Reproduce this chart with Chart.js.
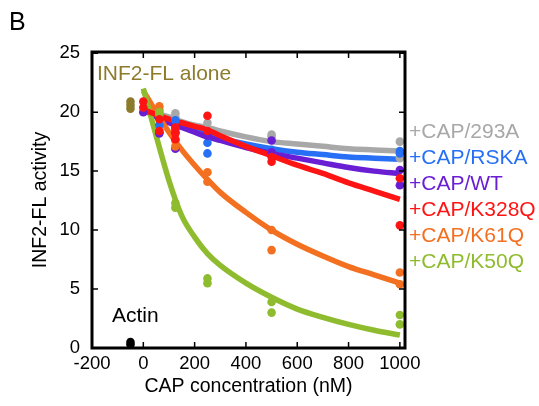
<!DOCTYPE html>
<html>
<head>
<meta charset="utf-8">
<script src="https://cdn.jsdelivr.net/npm/chart.js@4.4.1/dist/chart.umd.min.js"></script>
<style>
  html, body { margin: 0; padding: 0; background: #fff; }
</style>
</head>
<body>
<canvas id="capChart" width="539" height="406"></canvas>
<script>
// fitted curves
const fitX = [0, 50, 100, 150, 200, 250, 300, 400, 500, 600, 700, 800, 900, 1000];
const fit293A = [20.3, 19.9, 19.6, 19.2, 18.9, 18.7, 18.4, 17.9, 17.5, 17.3, 17.1, 16.9, 16.8, 16.7];
const fitRSKA = [20.2, 19.7, 19.2, 18.8, 18.4, 18.1, 17.8, 17.3, 16.9, 16.6, 16.4, 16.2, 16.1, 16.0];
const fitWT = [20.2, 19.6, 19.1, 18.7, 18.3, 17.9, 17.6, 17.0, 16.5, 16.1, 15.7, 15.3, 15.0, 14.8];
const fitK328Q = [20.2, 19.8, 19.4, 19.1, 18.8, 18.5, 18.0, 17.1, 16.3, 15.5, 14.8, 14.0, 13.3, 12.6];
const fitK61Q = [21.8, 20.0, 18.3, 16.8, 15.5, 14.3, 13.2, 11.5, 10.0, 8.8, 7.8, 6.9, 6.2, 5.5];
const fitK50Q = [22.0, 18.0, 14.2, 11.2, 9.4, 8.0, 7.0, 5.5, 4.3, 3.3, 2.6, 2.0, 1.5, 1.1];

// measured points
const ptX293A = [125, 125, 250, 500, 500, 1000, 1000];
const ptY293A = [19.9, 19.6, 19.1, 18.1, 17.9, 17.5, 16.1];
const ptXRSKA = [62.5, 62.5, 125, 125, 250, 250, 500, 500, 1000, 1000];
const ptYRSKA = [18.9, 18.3, 19.3, 18.6, 17.4, 16.5, 16.8, 16.5, 16.7, 16.5];
const ptXWT = [0, 62.5, 125, 125, 250, 500, 500, 1000, 1000];
const ptYWT = [20.0, 18.2, 18.3, 16.9, 18.0, 17.6, 16.6, 15.1, 13.8];
const ptXK328Q = [0, 0, 62.5, 62.5, 125, 125, 125, 250, 250, 500, 500, 1000, 1000];
const ptYK328Q = [20.9, 20.4, 19.4, 18.4, 18.7, 18.2, 17.7, 19.7, 18.4, 16.2, 15.8, 14.4, 10.4];
const ptXK61Q = [62.5, 62.5, 125, 125, 250, 250, 500, 500, 1000, 1000];
const ptYK61Q = [20.5, 20.2, 17.6, 17.1, 14.9, 14.1, 10.0, 8.3, 6.4, 5.4];
const ptXK50Q = [62.5, 62.5, 125, 125, 250, 250, 500, 500, 1000, 1000];
const ptYK50Q = [20.0, 19.8, 12.3, 11.9, 5.9, 5.5, 3.9, 3.0, 2.8, 2.0];
const ptXAlone = [-50, -50, -50];
const ptYAlone = [20.9, 20.6, 20.3];
const ptXActin = [-50, -50];
const ptYActin = [0.5, 0.3];

const seriesNames = ['+CAP/293A', '+CAP/RSKA', '+CAP/WT', '+CAP/K328Q', '+CAP/K61Q', '+CAP/K50Q'];
const seriesColors = ['#a8a8a8', '#2770f5', '#6a1ed4', '#ff1414', '#f37021', '#8fbc2e'];
const aloneColor = '#8c7b2b';
const xTicks = [-200, 0, 200, 400, 600, 800, 1000];
const yTicks = [0, 5, 10, 15, 20, 25];

const FONT = '"Liberation Sans", Arial, sans-serif';

let pairs = (xs, ys) => xs.map((v, i) => ({x: v, y: ys[i]}));

let fits = [fit293A, fitRSKA, fitWT, fitK328Q, fitK61Q, fitK50Q];
let ptsX = [ptX293A, ptXRSKA, ptXWT, ptXK328Q, ptXK61Q, ptXK50Q];
let ptsY = [ptY293A, ptYRSKA, ptYWT, ptYK328Q, ptYK61Q, ptYK50Q];
let lineOrder = [26, 25, 24, 21, 23, 22];
let ptOrder = [16, 15, 14, 11, 13, 12];

let datasets = [];
fits.forEach((f, i) => {
  datasets.push({
    label: seriesNames[i] + ' fit',
    data: pairs(fitX, f),
    showLine: true,
    borderColor: seriesColors[i],
    borderWidth: 5.5,
    pointRadius: 0,
    cubicInterpolationMode: 'monotone',
    order: lineOrder[i]
  });
  datasets.push({
    label: seriesNames[i],
    data: pairs(ptsX[i], ptsY[i]),
    backgroundColor: seriesColors[i],
    borderWidth: 0,
    pointRadius: 4.3,
    order: ptOrder[i]
  });
});
datasets.push({label: 'INF2-FL alone', data: pairs(ptXAlone, ptYAlone), backgroundColor: aloneColor, borderWidth: 0, pointRadius: 4.3, order: 5});
datasets.push({label: 'Actin', data: pairs(ptXActin, ptYActin), backgroundColor: '#000', borderWidth: 0, pointRadius: 4.3, order: 4});

//Box, inward ticks and the text labels
const overlay = {
  id: 'overlay',
  afterDraw(chart) {
    const {ctx, chartArea: a, scales: {x, y}} = chart;
    ctx.save();
    ctx.strokeStyle = '#000';
    ctx.lineWidth = 1.5;
    ctx.beginPath();
    xTicks.forEach(v => {
      let px = x.getPixelForValue(v);
      ctx.moveTo(px, a.bottom); ctx.lineTo(px, a.bottom - 6);
      ctx.moveTo(px, a.top); ctx.lineTo(px, a.top + 6);
    });
    yTicks.forEach(v => {
      let py = y.getPixelForValue(v);
      ctx.moveTo(a.left, py); ctx.lineTo(a.left + 6, py);
      ctx.moveTo(a.right, py); ctx.lineTo(a.right - 6, py);
    });
    ctx.stroke();
    ctx.lineWidth = 3;
    ctx.strokeRect(a.left, a.top, a.right - a.left, a.bottom - a.top);

    ctx.font = '21px ' + FONT;
    ctx.textBaseline = 'middle';
    ctx.textAlign = 'left';
    seriesNames.forEach((n, i) => {
      ctx.fillStyle = seriesColors[i];
      ctx.fillText(n, a.right + 4, a.top + 80 + i * 26);
    });
    ctx.fillStyle = aloneColor;
    ctx.fillText('INF2-FL alone', a.left + 5, a.top + 22);
    ctx.fillStyle = '#000';
    ctx.fillText('Actin', a.left + 20, a.bottom - 32);
    ctx.font = '25px ' + FONT;
    ctx.fillText('B', 9, 23);
    ctx.restore();
  }
};

new Chart(document.getElementById('capChart'), {
  type: 'scatter',
  data: {datasets: datasets},
  options: {
    responsive: false,
    animation: false,
    layout: {padding: {left: 0, top: 52, right: 134, bottom: 0}},
    plugins: {legend: {display: false}, tooltip: {enabled: false}},
    scales: {
      x: {
        type: 'linear',
        min: -200,
        max: 1020,
        afterBuildTicks: s => { s.ticks = xTicks.map(v => ({value: v})); },
        afterFit: s => { s.height = 58; },
        grid: {display: false, drawTicks: false},
        border: {display: false},
        ticks: {color: '#000', font: {size: 18.5, family: FONT}, padding: 5, maxRotation: 0, callback: v => String(v)},
        title: {display: true, text: 'CAP concentration (nM)', color: '#000', font: {size: 19.5, family: FONT}, padding: {top: 0, bottom: 8}}
      },
      y: {
        type: 'linear',
        min: 0,
        max: 25.1,
        afterBuildTicks: s => { s.ticks = yTicks.map(v => ({value: v})); },
        afterFit: s => { s.width = 92; },
        grid: {display: false, drawTicks: false},
        border: {display: false},
        ticks: {color: '#000', font: {size: 18.5, family: FONT}, padding: 12, callback: v => String(v)},
        title: {display: true, text: 'INF2-FL activity', color: '#000', font: {size: 19.5, family: FONT}, padding: {top: 29, bottom: 0}}
      }
    }
  },
  plugins: [overlay]
});
</script>
</body>
</html>
